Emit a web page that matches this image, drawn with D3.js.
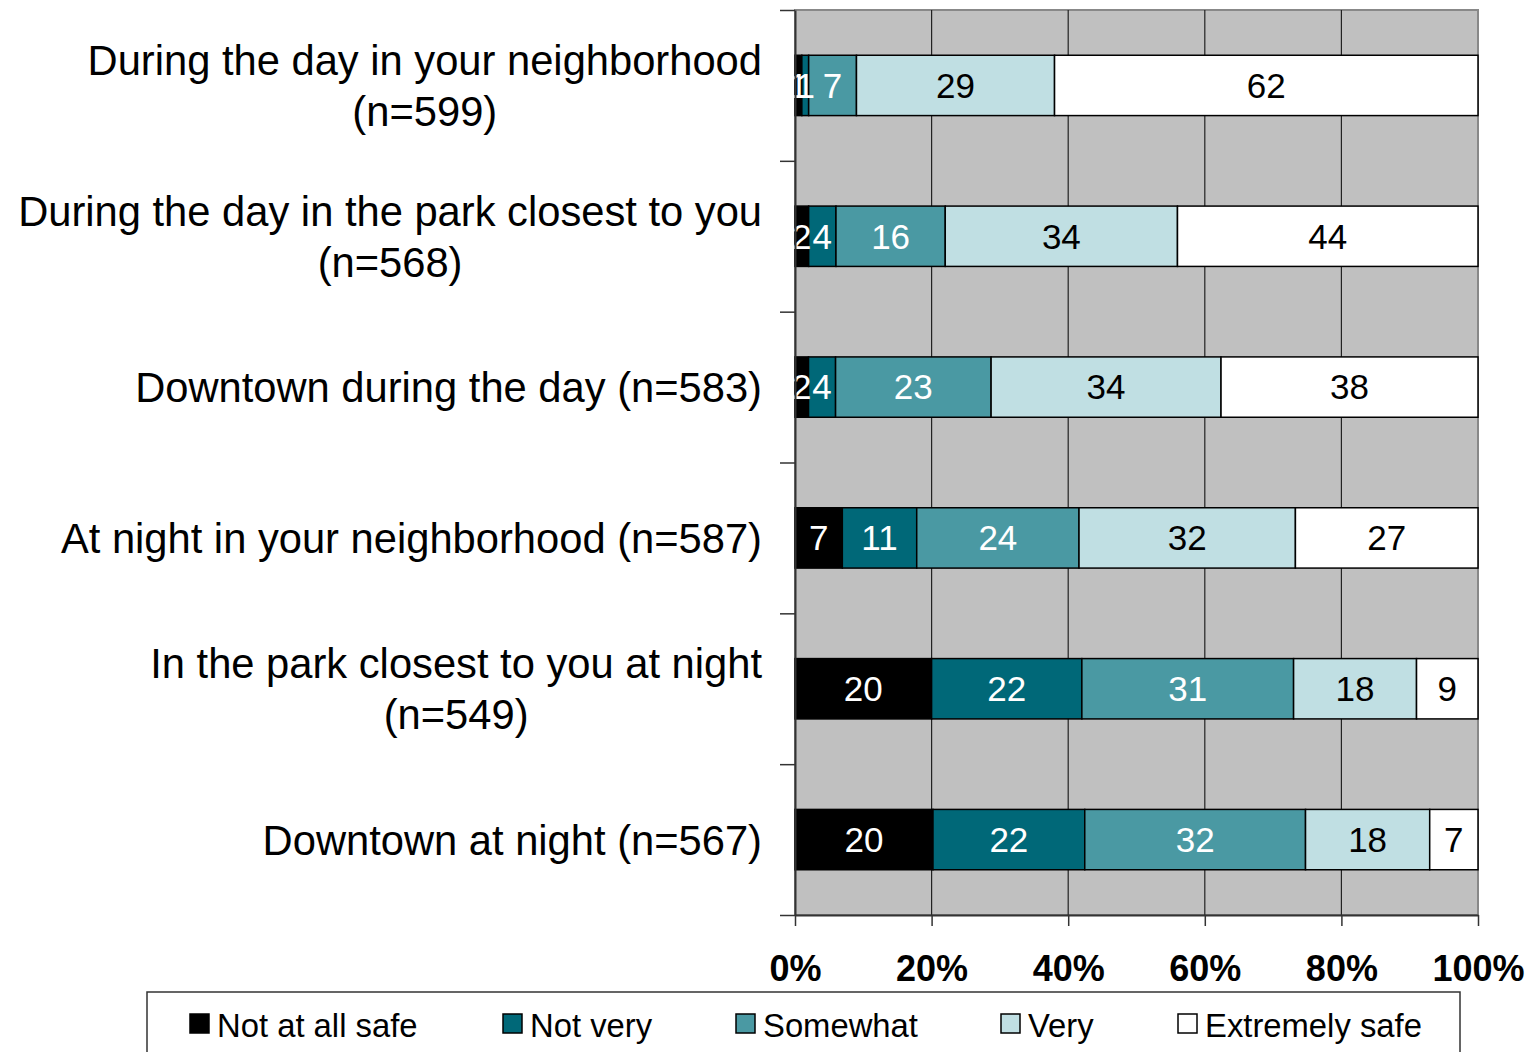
<!DOCTYPE html>
<html>
<head>
<meta charset="utf-8">
<script src="https://cdn.jsdelivr.net/npm/d3@7"></script>
<style>
  html, body { margin: 0; padding: 0; background: #fff; }
  svg { display: block; font-family: "Liberation Sans", Arial, sans-serif; }
</style>
</head>
<body>
<svg id="chart" width="1528" height="1052"></svg>
<script>
// ---- data ----
const categories = [
  ["During the day in your neighborhood", "(n=599)"],
  ["During the day in the park closest to you", "(n=568)"],
  ["Downtown during the day (n=583)"],
  ["At night in your neighborhood (n=587)"],
  ["In the park closest to you at night", "(n=549)"],
  ["Downtown at night (n=567)"]
];
const seriesNames = ["Not at all safe", "Not very", "Somewhat", "Very", "Extremely safe"];
const notAtAllSafe = [1, 2, 2, 7, 20, 20];
const notVery      = [1, 4, 4, 11, 22, 22];
const somewhat     = [7, 16, 23, 24, 31, 32];
const very         = [29, 34, 34, 32, 18, 18];
const extremely    = [62, 44, 38, 27, 9, 7];
const tickValues = [0, 0.2, 0.4, 0.6, 0.8, 1.0];
const tickLabels = ["0%", "20%", "40%", "60%", "80%", "100%"];
const colors = ["#000000", "#006878", "#4A99A3", "#C0DFE3", "#FFFFFF"];
const labelColors = ["#fff", "#fff", "#fff", "#000", "#000"];

(function () {
const seriesValues = [notAtAllSafe, notVery, somewhat, very, extremely];
const rows = categories.map((c, i) => {
  const o = { key: i };
  seriesNames.forEach((s, j) => o[s] = seriesValues[j][i]);
  return o;
});

const svg = d3.select("#chart");
const pLeft = 795, pRight = 1478, pTop = 10, pBottom = 915;

const x = d3.scaleLinear().domain([0, 1]).range([pLeft, pRight]);
const y = d3.scaleBand().domain(d3.range(categories.length)).range([pTop, pBottom])
  .paddingInner(0.6).paddingOuter(0.3);

const stack = d3.stack().keys(seriesNames).offset(d3.stackOffsetExpand);
const stacked = stack(rows);

// plot background
svg.append("rect").attr("x", pLeft).attr("y", pTop).attr("width", pRight - pLeft).attr("height", pBottom - pTop)
  .attr("fill", "#C0C0C0").attr("stroke", "#888").attr("stroke-width", 2);

// gridlines
svg.append("g").selectAll("line").data(tickValues.slice(1, -1)).join("line")
  .attr("x1", d => x(d)).attr("x2", d => x(d)).attr("y1", pTop).attr("y2", pBottom)
  .attr("stroke", "#222").attr("stroke-width", 1.2);

// bars
const g = svg.append("g");
stacked.forEach((layer, j) => {
  g.append("g").selectAll("rect").data(layer).join("rect")
    .attr("x", d => x(d[0])).attr("width", d => x(d[1]) - x(d[0]))
    .attr("y", (d, i) => y(i)).attr("height", y.bandwidth())
    .attr("fill", colors[j]).attr("stroke", "#000").attr("stroke-width", 1.5);
});
// value labels
stacked.forEach((layer, j) => {
  g.append("g").selectAll("text").data(layer).join("text")
    .attr("x", d => (x(d[0]) + x(d[1])) / 2)
    .attr("y", (d, i) => y(i) + y.bandwidth() / 2)
    .attr("dy", "0.35em")
    .attr("text-anchor", "middle")
    .attr("font-size", 35)
    .attr("fill", labelColors[j])
    .text((d, i) => seriesValues[j][i]);
});

// left axis
const yAxisScale = d3.scaleLinear().domain([0, categories.length]).range([pTop, pBottom]);
const yAxis = svg.append("g").attr("transform", `translate(${pLeft},0)`)
  .call(d3.axisLeft(yAxisScale).tickValues(d3.range(categories.length + 1)).tickSize(15).tickSizeOuter(0).tickFormat(""));
yAxis.select(".domain").attr("stroke", "#333").attr("stroke-width", 2);
yAxis.selectAll(".tick line").attr("stroke", "#333").attr("stroke-width", 1.5);

// bottom axis
const xAxis = svg.append("g").attr("transform", `translate(0,${pBottom})`)
  .call(d3.axisBottom(x).tickValues(tickValues).tickSize(11).tickSizeOuter(0).tickFormat((d, i) => tickLabels[i]));
xAxis.select(".domain").attr("stroke", "#333").attr("stroke-width", 2);
xAxis.selectAll(".tick line").attr("stroke", "#333").attr("stroke-width", 1.5);
xAxis.selectAll(".tick text").attr("font-size", 36).attr("font-weight", "bold").attr("fill", "#000")
  .attr("font-family", "'Liberation Sans', Arial, sans-serif").attr("y", 54).attr("dy", "0.32em");

// category labels
const labelRight = 762;
const lineH = 51;
const fs = 41.7;
categories.forEach((lines, i) => {
  const cy = y(i) + y.bandwidth() / 2;
  const t = svg.append("text").attr("font-size", fs).attr("fill", "#000");
  if (lines.length === 1) {
    t.attr("x", labelRight).attr("y", cy).attr("dy", "0.36em").attr("text-anchor", "end").text(lines[0]);
  } else {
    const tmp = svg.append("text").attr("font-size", fs).text(lines[0]);
    const w = tmp.node().getComputedTextLength();
    tmp.remove();
    const cx = labelRight - w / 2;
    lines.forEach((ln, k) => {
      t.append("tspan").attr("x", cx).attr("text-anchor", "middle")
        .attr("y", cy + (k - (lines.length - 1) / 2) * lineH).attr("dy", "0.36em").text(ln);
    });
  }
});

// legend
const legend = svg.append("g");
legend.append("rect").attr("x", 147).attr("y", 992).attr("width", 1313).attr("height", 80)
  .attr("fill", "#fff").attr("stroke", "#333").attr("stroke-width", 1.5);
const legendX = [190, 503, 736, 1001, 1178];
seriesNames.forEach((s, j) => {
  legend.append("rect").attr("x", legendX[j]).attr("y", 1014).attr("width", 19).attr("height", 19)
    .attr("fill", colors[j]).attr("stroke", "#000").attr("stroke-width", 1.5);
  legend.append("text").attr("x", legendX[j] + 27).attr("y", 1025).attr("dy", "0.36em")
    .attr("font-size", 32.8).attr("fill", "#000").text(s);
});
})();
</script>
</body>
</html>
